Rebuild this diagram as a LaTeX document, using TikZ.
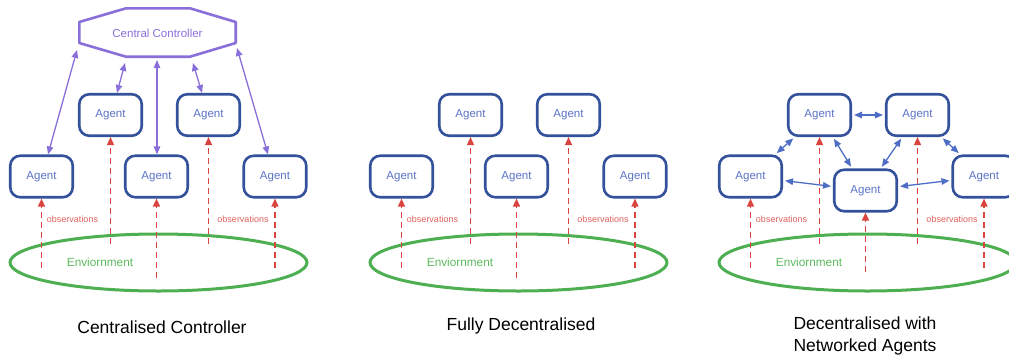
\documentclass[tikz,border=0pt]{standalone}
\usepackage{fontspec}
\setmainfont{Liberation Sans}
\usetikzlibrary{arrows.meta,calc,shapes.geometric}
\definecolor{agentblue}{HTML}{34519B}
\definecolor{agenttxt}{HTML}{5B72C6}
\definecolor{ctrlpurple}{HTML}{8A6FDB}
\definecolor{obsred}{HTML}{D9443F}
\definecolor{envgreen}{HTML}{4DAF52}
\definecolor{envtxt}{HTML}{5CBA5E}
\definecolor{netblue}{HTML}{4E6EC6}
\tikzset{
  agent/.style={draw=agentblue, line width=2.6pt, rounded corners=10pt,
    minimum width=62.5pt, minimum height=41.5pt, inner sep=0pt,
    text=agenttxt, font=\fontsize{11.5}{13}\selectfont},
  obsarrow/.style={draw=obsred, line width=1.5pt, dash pattern=on 6pt off 4pt,
    -{Triangle[width=7pt,length=8pt]}},
  obslabel/.style={text=obsred!85, font=\fontsize{9}{10}\selectfont, inner sep=0pt},
  envshape/.style={ellipse, draw=envgreen, line width=3pt, minimum width=297pt,
    minimum height=57pt, inner sep=0pt},
  envlabel/.style={text=envtxt, font=\fontsize{11.8}{13}\selectfont, inner sep=0pt},
  ctrlarrow/.style={draw=ctrlpurple, line width=1.3pt,
    {Triangle[width=6.5pt,length=8pt]}-{Triangle[width=6.5pt,length=8pt]}},
  netarrow/.style={draw=netblue, line width=1.3pt, shorten <=2pt, shorten >=2pt,
    {Triangle[width=6.5pt,length=8pt]}-{Triangle[width=6.5pt,length=8pt]}},
  octo/.style={draw=ctrlpurple, line width=2.6pt, line join=round},
  title/.style={text=black, font=\fontsize{17.5}{22}\selectfont, align=center, inner sep=0pt}
}
\newcommand{\basepanel}[2]{%
  \node[envshape] (env) at (158.5,262.5) {};
  \node[envlabel] (envtext) at (100,262) {Enviornment};
  \node[agent] (L1) at (41.5,176.5) {Agent};
  \node[agent] (U1) at (110.5,115) {Agent};
  \node[agent] (L2) at (156.5,#1) {Agent};
  \node[agent] (U2) at (208.5,115) {Agent};
  \node[agent] (L3) at (275,176.5) {Agent};
  \coordinate (o1) at (41.5,268);
  \coordinate (o2) at (110.5,244);
  \coordinate (o3) at (156.5,#2);
  \coordinate (o4) at (208.5,244);
  \coordinate (o5) at (275,268);
  \draw[obsarrow] (o1) -- (L1);
  \draw[obsarrow] (o2) -- (U1);
  \draw[obsarrow] (o3) -- (L2);
  \draw[obsarrow] (o4) -- (U2);
  \draw[obsarrow] (o5) -- (L3);
  \node[obslabel] (ob1) at (72.5,219) {observations};
  \node[obslabel] (ob2) at (243,219) {observations};
}
\begin{document}
\begin{tikzpicture}[x=1pt,y=-1pt]
\useasboundingbox (0,0) rectangle (1009,362);
\clip (0,0) rectangle (1009,362);
% Panel 1: centralised controller
\begin{scope}[name prefix=a-]
  \basepanel{176.5}{278}
  \draw[octo] (79.3,22) -- (126,8.3) -- (190,8.3) -- (235.7,22) -- (235.7,43)
    -- (190,56.7) -- (126,56.7) -- (79.3,43) -- cycle;
  \node[text=ctrlpurple, font=\fontsize{11.5}{13}\selectfont, inner sep=0pt]
    (cc) at (157.5,33) {Central Controller};
  \coordinate (c1) at (77,50);
  \coordinate (c2) at (125,63);
  \coordinate (c3) at (157,60);
  \coordinate (c4) at (193,63);
  \coordinate (c5) at (237,48);
  \draw[ctrlarrow] (c1) -- ([xshift=6.5pt]L1.north);
  \draw[ctrlarrow] (c2) -- ([xshift=6.5pt]U1.north);
  \draw[ctrlarrow] (c3) -- ([xshift=0.5pt]L2.north);
  \draw[ctrlarrow] (c4) -- ([xshift=-6.5pt]U2.north);
  \draw[ctrlarrow] (c5) -- ([xshift=-7pt]L3.north);
  \node[title] (t1) at (162,327) {Centralised Controller};
\end{scope}
% Panel 2: fully decentralised
\begin{scope}[xshift=360pt, name prefix=b-]
  \basepanel{176.5}{278}
  \node[title] (t2) at (161,326) {Fully Decentralised};
\end{scope}
% Panel 3: networked agents
\begin{scope}[xshift=709pt, name prefix=c-]
  \basepanel{190.5}{272}
  \draw[netarrow] (U1) -- (U2);
  \draw[netarrow] (U1) -- (L1);
  \draw[netarrow] (U1) -- (L2);
  \draw[netarrow] (U2) -- (L2);
  \draw[netarrow] (U2) -- (L3);
  \draw[netarrow] (L1) -- (L2);
  \draw[netarrow] (L2) -- (L3);
  \node[title] (t3) at (156,336) {Decentralised with\\Networked Agents};
\end{scope}
\end{tikzpicture}
\end{document}
